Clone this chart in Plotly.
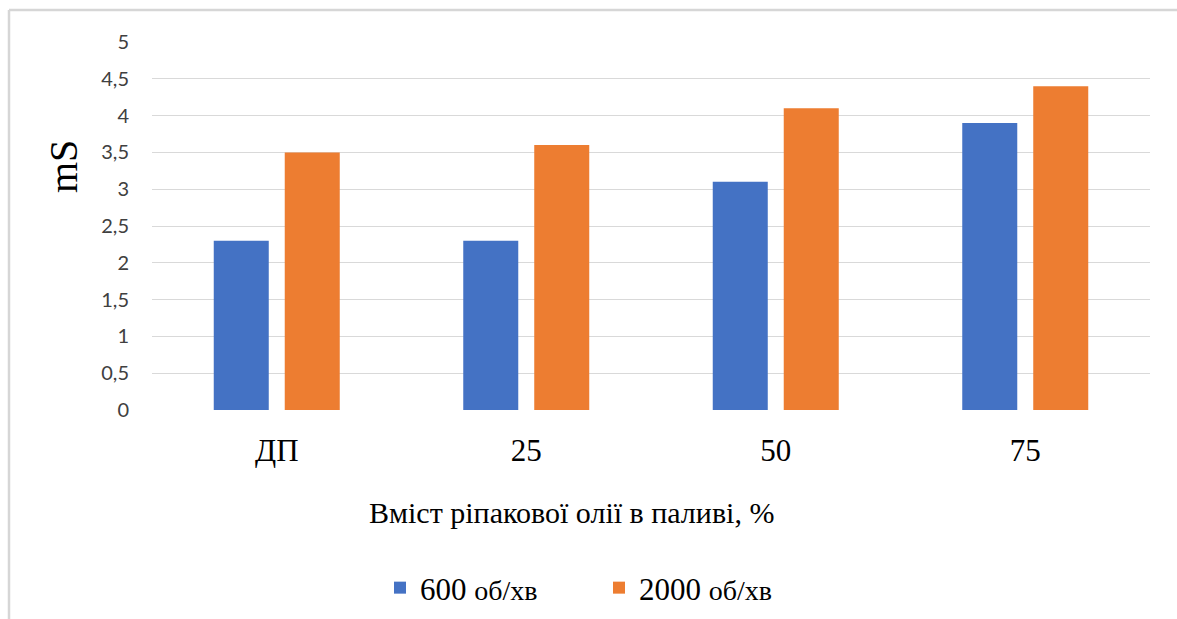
import plotly.graph_objects as go

# Fuel blend categories (rapeseed oil share, %)
categories = ["ДП", "25", "50", "75"]

# Measured values, mS
values_600 = [2.3, 2.3, 3.1, 3.9]
values_2000 = [3.5, 3.6, 4.1, 4.4]

series_names = ["600 об/хв", "2000 об/хв"]
y_ticks = [0, 0.5, 1, 1.5, 2, 2.5, 3, 3.5, 4, 4.5, 5]
y_tick_labels = ["0", "0,5", "1", "1,5", "2", "2,5", "3", "3,5", "4", "4,5", "5"]

BLUE = "#4472C4"
ORANGE = "#ED7D31"
SERIF = "Liberation Serif, Times New Roman, serif"
SANS = "Lato, Open Sans, sans-serif"

W, H = 1177, 619
ML, MR, MT, MB = 152, 27, 42, 209
PW = W - ML - MR
PH = H - MT - MB


def px_x(x):
    return (x - ML) / PW


def px_y(y):
    return (H - MB - y) / PH


def legend_label(name):
    num, unit = name.split(" ", 1)
    return f"{num} <span style='font-size:28px'>{unit}</span>"


fig = go.Figure()
fig.add_trace(go.Bar(x=categories, y=values_600, name=legend_label(series_names[0]),
                     marker=dict(color=BLUE, line=dict(width=0))))
fig.add_trace(go.Bar(x=categories, y=values_2000, name=legend_label(series_names[1]),
                     marker=dict(color=ORANGE, line=dict(width=0))))

fig.update_layout(
    width=W, height=H,
    margin=dict(l=ML, r=MR, t=MT, b=MB, pad=0, autoexpand=False),
    paper_bgcolor="white", plot_bgcolor="white",
    barmode="group", bargap=0.431, bargroupgap=0.225,
    showlegend=True,
    legend=dict(
        orientation="h", x=px_x(380), xanchor="left",
        y=px_y(588), yanchor="middle",
        font=dict(family=SERIF, size=31, color="#000000"),
        entrywidth=174, entrywidthmode="pixels",
        bgcolor="rgba(0,0,0,0)",
    ),
    xaxis=dict(
        showgrid=False, showline=False, zeroline=False, ticks="",
        tickfont=dict(family=SERIF, size=31, color="#000000"),
        ticklabelstandoff=19,
    ),
    yaxis=dict(
        range=[0, 5], tickvals=y_ticks, ticktext=y_tick_labels,
        showgrid=True, gridcolor="#D9D9D9", gridwidth=1.3,
        zeroline=False, showline=False, ticks="",
        tickfont=dict(family=SANS, size=20, color="#404040"),
        ticklabelstandoff=22,
    ),
    annotations=[
        dict(text="mS", xref="paper", yref="paper", x=px_x(63), y=px_y(167),
             xanchor="center", yanchor="middle", textangle=-90, showarrow=False,
             font=dict(family=SERIF, size=40, color="#000000")),
        dict(text="Вміст ріпакової олії в паливі, %", xref="paper", yref="paper",
             x=px_x(571), y=px_y(512), xanchor="center", yanchor="middle",
             showarrow=False, font=dict(family=SERIF, size=30, color="#000000")),
    ],
    shapes=[
        # chart frame: top and left edges
        dict(type="line", xref="paper", yref="paper", x0=px_x(9), x1=px_x(W + 5),
             y0=px_y(10), y1=px_y(10), line=dict(color="#D6D6D6", width=2.5)),
        dict(type="line", xref="paper", yref="paper", x0=px_x(9), x1=px_x(9),
             y0=px_y(10), y1=px_y(H + 5), line=dict(color="#D6D6D6", width=2.5)),
    ],
)

fig.write_html("out.html")
